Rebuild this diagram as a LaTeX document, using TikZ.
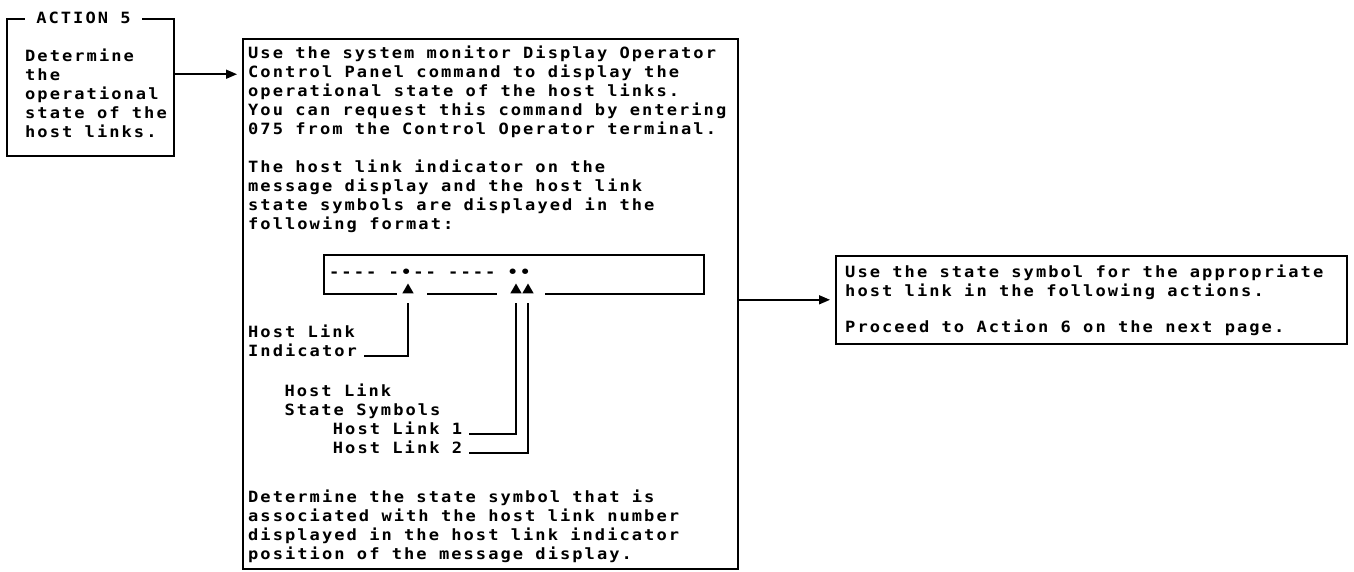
\documentclass[tikz,border=0pt]{standalone}
\usepackage{fontspec}
\newfontfamily\mono[FakeStretch=1.1,LetterSpace=13.2]{DejaVu Sans Mono}
\usetikzlibrary{arrows.meta,shapes.geometric,calc}
\begin{document}
\begin{tikzpicture}[x=1pt,y=-1pt,
  frame/.style={draw, line width=1.6pt, inner sep=0pt, anchor=north west},
  txt/.style={anchor=base west, inner sep=0pt, font=\fontsize{15.5}{19}\mono\bfseries},
  arr/.style={line width=1.6pt, shorten >=5pt, -{Triangle[length=11pt,width=9pt]}},
  conn/.style={line width=1.6pt},
  tri/.style={regular polygon, regular polygon sides=3, fill, inner sep=0pt, minimum size=13pt}
]
\useasboundingbox (0,0) rectangle (1354,571);

% Action box
\node[frame, minimum width=167pt, minimum height=137pt] (act) at (6,18) {};
\node[font=\fontsize{15.5}{19}\mono\bfseries, fill=white, inner xsep=11pt, inner ysep=2pt] (title) at (83.5,18) {ACTION 5};
\foreach \t [count=\i] in {{Determine},{the},{operational},{state of the},{host links.}}
  \node[txt] (a\i) at (25,{61+19*(\i-1)}) {\t};

% Main box
\node[frame, minimum width=495pt, minimum height=530pt] (main) at (242,38) {};
\draw[arr] (act.east |- a2.center) -- (main.west |- a2.center);

\foreach \t [count=\i] in {{Use the system monitor Display Operator},{Control Panel command to display the},{operational state of the host links.},{You can request this command by entering},{075 from the Control Operator terminal.}}
  \node[txt] (p\i) at (248,{58+19*(\i-1)}) {\t};
\foreach \t [count=\i] in {{The host link indicator on the},{message display and the host link},{state symbols are displayed in the},{following format:}}
  \node[txt] (q\i) at (248,{172+19*(\i-1)}) {\t};

% Display
\node[txt] (dash) at (329,277) {---- -•-- ---- ••};
\node[tri] (t0) at (408,290) {};
\node[tri] (t1) at (516,290) {};
\node[tri] (t2) at (528,290) {};
\draw[conn] (397,294) -- (324,294) -- (324,255) -- (704,255) -- (704,294) -- (545,294);
\draw[conn] (427,294) -- (497,294);

% Labels
\node[txt] (il1) at (248,337) {Host Link};
\node[txt] (ind) at (248,356) {Indicator};
\node[txt] (sl1) at (284.3,396) {Host Link};
\node[txt] (sl2) at (284.3,415) {State Symbols};
\node[txt] (h1) at (332.7,434) {Host Link 1};
\node[txt] (h2) at (332.7,453) {Host Link 2};
\draw[conn, shorten <=10pt, shorten >=7pt] (t0.south) |- (ind.base east);
\draw[conn, shorten <=10pt, shorten >=7pt] (t1.south) |- (h1.base east);
\draw[conn, shorten <=10pt, shorten >=7pt] (t2.south) |- (h2.base east);

\foreach \t [count=\i] in {{Determine the state symbol that is},{associated with the host link number},{displayed in the host link indicator},{position of the message display.}}
  \node[txt] (r\i) at (248,{502+19*(\i-1)}) {\t};

% Right box
\node[frame, minimum width=511pt, minimum height=88pt] (rbox) at (835,255) {};
\node[txt] (s1) at (845,277) {Use the state symbol for the appropriate};
\node[txt] (s2) at (845,296) {host link in the following actions.};
\node[txt] (s3) at (845,332) {Proceed to Action 6 on the next page.};
\draw[arr] (main.east |- rbox.west) -- (rbox.west);
\end{tikzpicture}
\end{document}
